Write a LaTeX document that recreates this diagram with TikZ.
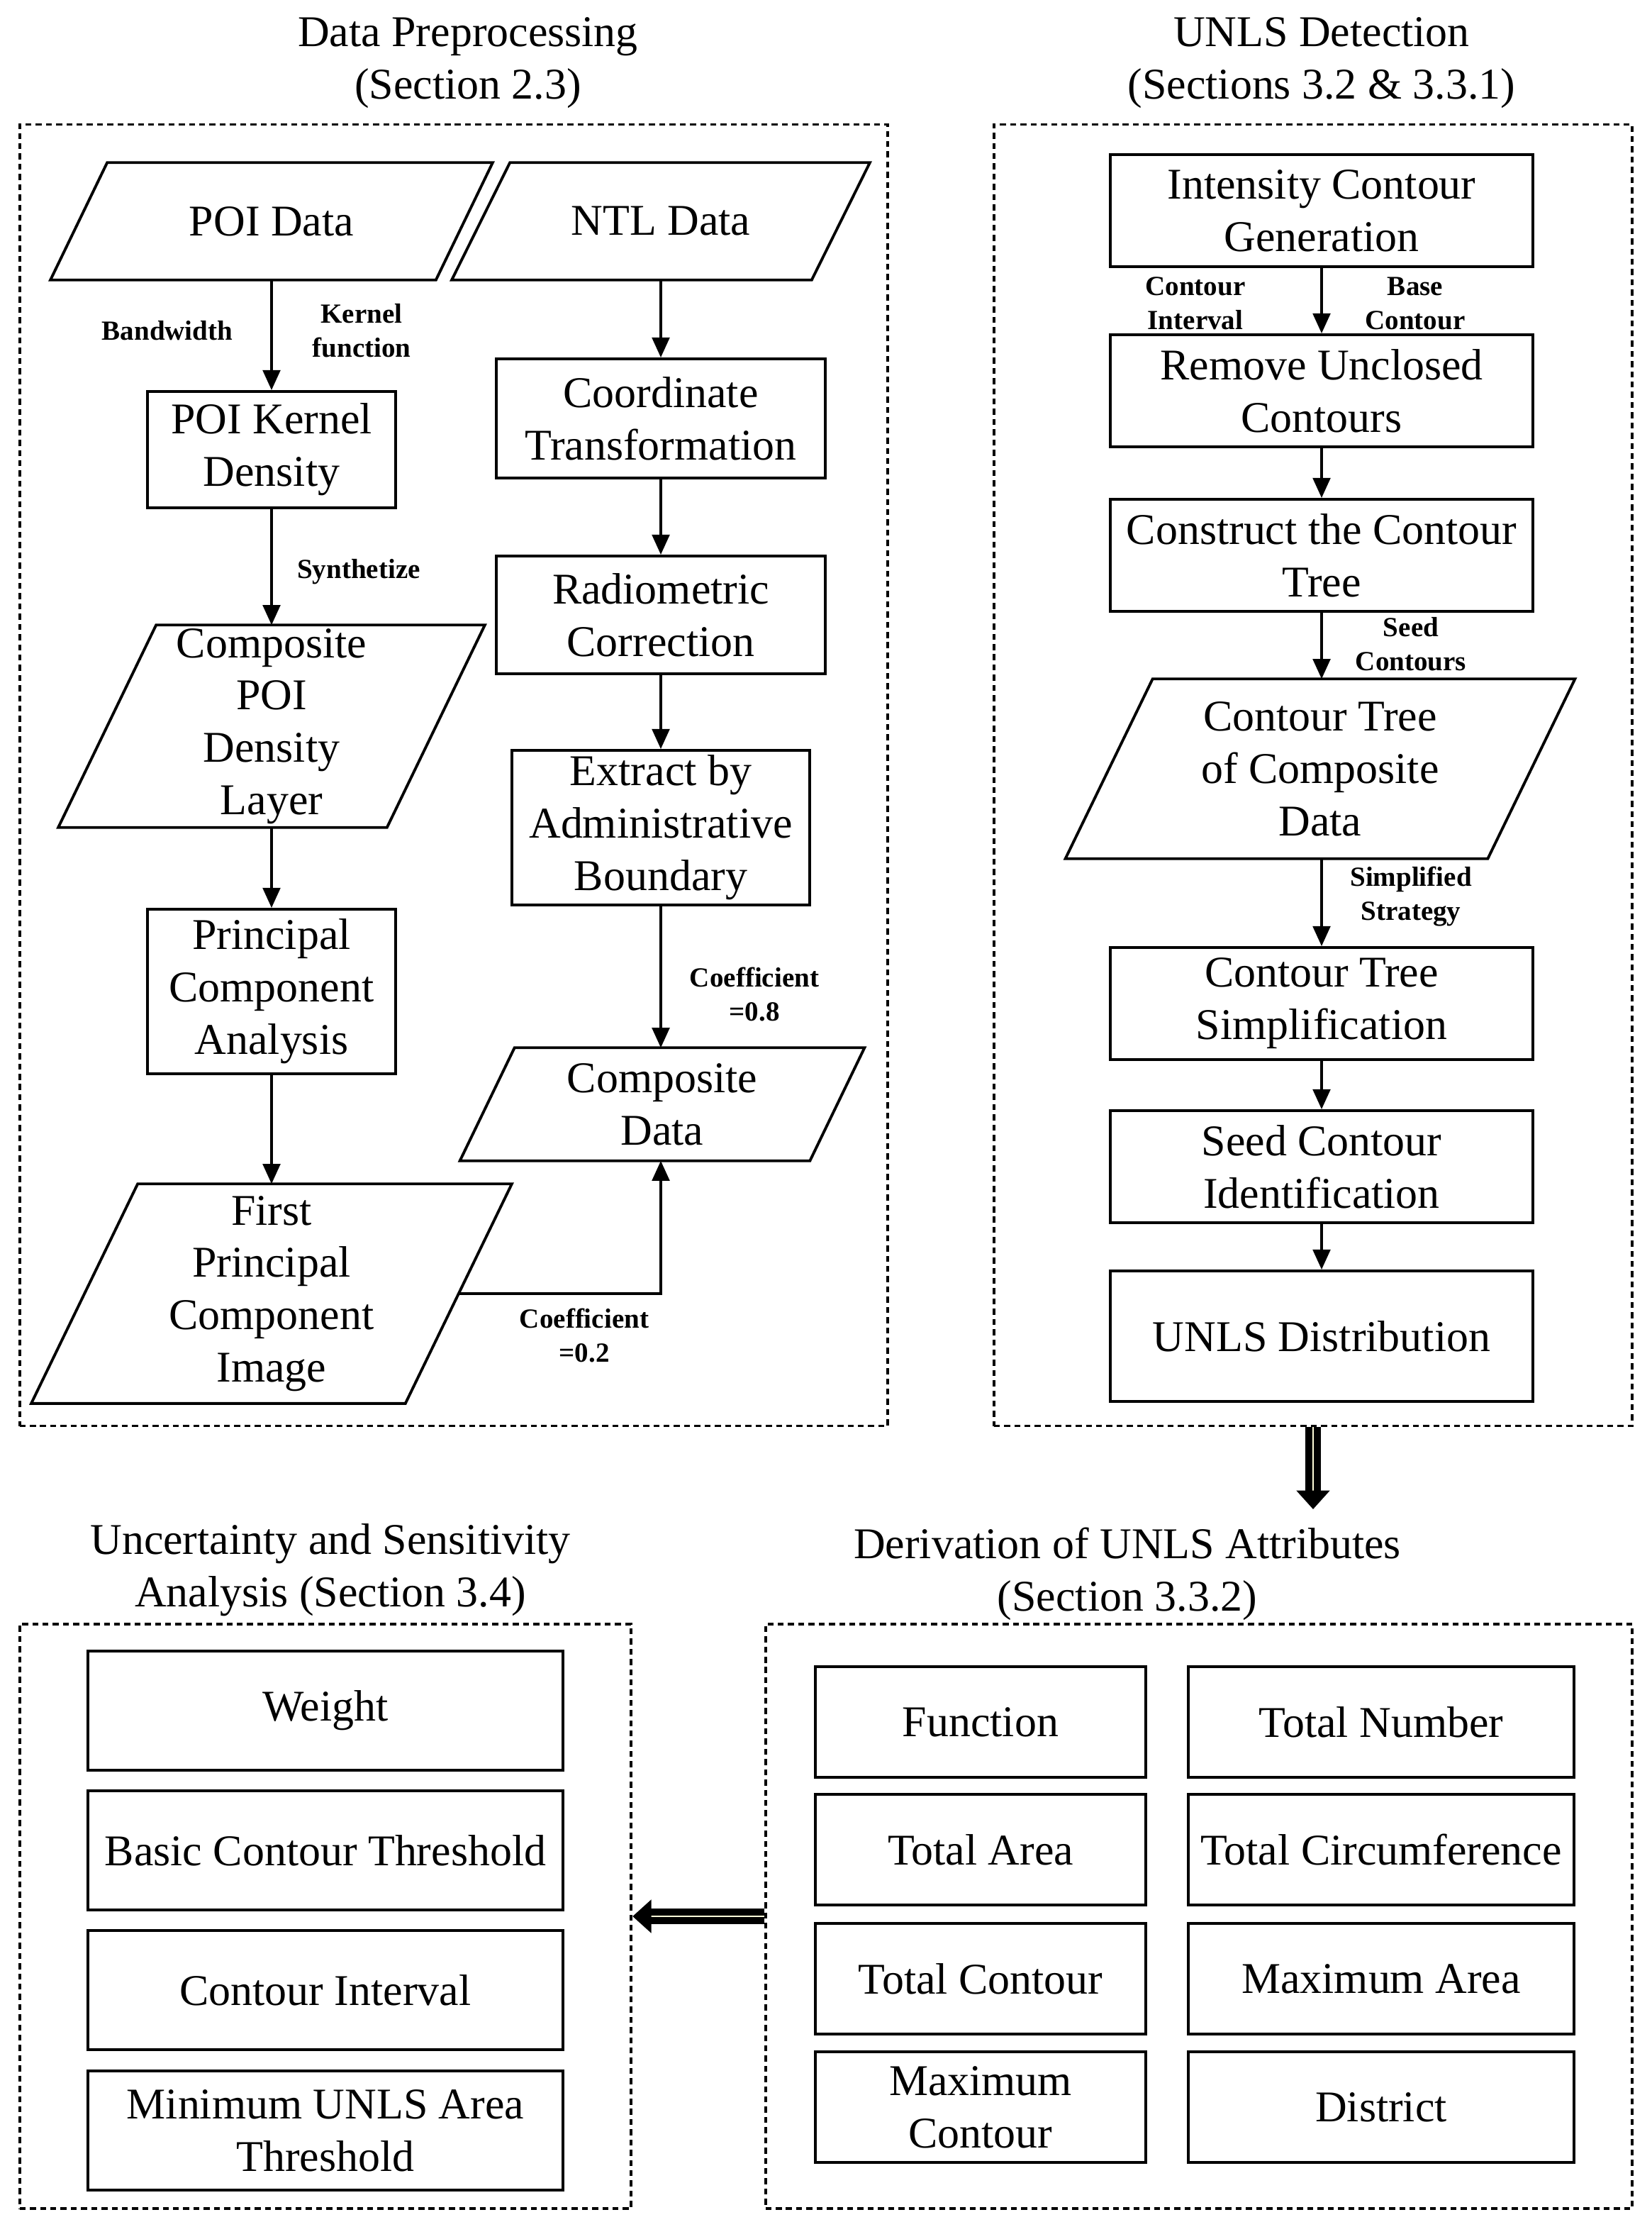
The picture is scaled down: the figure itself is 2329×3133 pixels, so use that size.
\documentclass[tikz,border=0pt]{standalone}
\usepackage{fontspec}
\setmainfont{Liberation Serif}
\usetikzlibrary{arrows.meta, positioning}
\newcommand{\mainfs}{\fontsize{17.6pt}{21pt}\selectfont}
\newcommand{\labfs}{\fontsize{11.1pt}{13.7pt}\selectfont\bfseries}
% slanted outline round a data node: #1 node, #2 half of the slant
\newcommand{\ioframe}[2]{\draw[line width=1.1pt] ([xshift=#2]#1.north west) -- ([xshift=#2]#1.north east) -- ([xshift=-#2]#1.south east) -- ([xshift=-#2]#1.south west) -- cycle;}

\begin{document}
\begin{tikzpicture}[x=0.01cm, y=-0.01cm,
  pbox/.style={draw, line width=1.1pt, align=center, inner sep=2pt, font=\mainfs},
  iobox/.style={align=center, inner sep=1pt, font=\mainfs},
  ttl/.style={align=center, font=\mainfs},
  lbl/.style={align=center, font=\labfs, inner sep=0pt},
  frame/.style={draw, line width=1.1pt, dash pattern=on 2.4pt off 1.7pt, inner sep=0pt},
  arr/.style={line width=1pt, -{Triangle[length=8pt, width=7pt]}},
  fat/.style={line width=2.6pt, double=white!85!yellow, double distance=0.8pt, -{Triangle[length=7.5pt, width=13pt]}}
]
  \useasboundingbox (0,0) rectangle (2329,3133);

  % titles and dashed frames
  \node[ttl] (prepTitle) at (660,89) {Data Preprocessing\\(Section 2.3)};
  \node[ttl] (detTitle) at (1864,89) {UNLS Detection\\(Sections 3.2 \& 3.3.1)};
  \node[ttl] (uncTitle) at (466,2214) {Uncertainty and Sensitivity\\Analysis (Section 3.4)};
  \node[ttl] (attrTitle) at (1590,2219) {Derivation of UNLS Attributes\\(Section 3.3.2)};

  \node[frame, minimum width=12.24cm, minimum height=18.34cm] (prepFrame) at (640,1093) {};
  \node[frame, minimum width=9cm, minimum height=18.34cm] (detFrame) at (1852,1093) {};
  \node[frame, minimum width=8.62cm, minimum height=8.24cm] (uncFrame) at (459,2702) {};
  \node[frame, minimum width=12.22cm, minimum height=8.24cm] (attrFrame) at (1691,2702) {};

  % data preprocessing: POI branch
  \node[iobox, minimum width=5.42cm, minimum height=1.64cm] (poi) at (383,312) {POI Data};
  \node[pbox, minimum width=3.5cm, minimum height=1.64cm] (kde) at (383,634) {POI Kernel\\Density};
  \node[iobox, minimum width=4.62cm, minimum height=2.84cm] (cpoi) at (383,1024) {Composite\\POI\\Density\\Layer};
  \node[pbox, minimum width=3.5cm, minimum height=2.32cm] (pca) at (383,1398) {Principal\\Component\\Analysis};
  \node[iobox, minimum width=5.26cm, minimum height=3.08cm] (fpci) at (383,1824) {First\\Principal\\Component\\Image};
  \ioframe{poi}{0.4cm}
  \ioframe{cpoi}{0.69cm}
  \ioframe{fpci}{0.75cm}

  % data preprocessing: NTL branch
  \node[iobox, minimum width=5.06cm, minimum height=1.64cm] (ntl) at (932,312) {NTL Data};
  \node[pbox, minimum width=4.64cm, minimum height=1.68cm] (ctr) at (932,590) {Coordinate\\Transformation};
  \node[pbox, minimum width=4.64cm, minimum height=1.66cm] (rad) at (932,867) {Radiometric\\Correction};
  \node[pbox, minimum width=4.2cm, minimum height=2.14cm] (ext) at (932,1167) {Extract by\\Administrative\\Boundary};
  \node[iobox, minimum width=4.92cm, minimum height=1.58cm] (cd) at (934,1557) {Composite\\Data};
  \ioframe{ntl}{0.41cm}
  \ioframe{cd}{0.385cm}

  \draw[arr] (poi.south) -- (kde.north);
  \draw[arr] (kde.south) -- (cpoi.north);
  \draw[arr] (cpoi.south) -- (pca.north);
  \draw[arr] (pca.south) -- (fpci.north);
  \draw[arr] (ntl.south) -- (ctr.north);
  \draw[arr] (ctr.south) -- (rad.north);
  \draw[arr] (rad.south) -- (ext.north);
  \draw[arr] (ext.south) -- (ext.south |- cd.north);
  \draw[arr] (fpci.east) -| (ext.south |- cd.south);

  \node[lbl] (bwLbl) at (236,466) {Bandwidth};
  \node[lbl] (kfLbl) at (510,466) {Kernel\\function};
  \node[lbl] (synLbl) at (506,806) {Synthetize};
  \node[lbl] (coefA) at (1064,1402) {Coefficient\\=0.8};
  \node[lbl] (coefB) at (824,1883) {Coefficient\\=0.2};

  % UNLS detection
  \node[pbox, minimum width=5.96cm, minimum height=1.58cm] (icg) at (1864,297) {Intensity Contour\\Generation};
  \node[pbox, minimum width=5.96cm, minimum height=1.58cm] (ruc) at (1864,551) {Remove Unclosed\\Contours};
  \node[pbox, minimum width=5.96cm, minimum height=1.58cm] (cct) at (1864,783) {Construct the Contour\\Tree};
  \node[iobox, minimum width=5.94cm, minimum height=2.52cm] (ctcd) at (1862,1084) {Contour Tree\\of Composite\\Data};
  \node[pbox, minimum width=5.96cm, minimum height=1.58cm] (cts) at (1864,1415) {Contour Tree\\Simplification};
  \node[pbox, minimum width=5.96cm, minimum height=1.58cm] (sci) at (1864,1645) {Seed Contour\\Identification};
  \node[pbox, minimum width=5.96cm, minimum height=1.84cm] (ud) at (1864,1884) {UNLS Distribution};
  \ioframe{ctcd}{0.615cm}

  \draw[arr] (icg.south) -- (ruc.north);
  \draw[arr] (ruc.south) -- (cct.north);
  \draw[arr] (cct.south) -- (cct.south |- ctcd.north);
  \draw[arr] (cct.south |- ctcd.south) -- (cts.north);
  \draw[arr] (cts.south) -- (sci.north);
  \draw[arr] (sci.south) -- (ud.north);

  \node[lbl] (ciLbl) at (1686,428) {Contour\\Interval};
  \node[lbl] (bcLbl) at (1996,428) {Base\\Contour};
  \node[lbl] (scLbl) at (1990,908) {Seed\\Contours};
  \node[lbl] (ssLbl) at (1990,1264) {Simplified\\Strategy};

  % UNLS attributes
  \node[pbox, minimum width=4.66cm, minimum height=1.56cm] (fun) at (1383,2428) {Function};
  \node[pbox, minimum width=4.66cm, minimum height=1.56cm] (tarea) at (1383,2608) {Total Area};
  \node[pbox, minimum width=4.66cm, minimum height=1.56cm] (tcon) at (1383,2790) {Total Contour};
  \node[pbox, minimum width=4.66cm, minimum height=1.56cm] (mcon) at (1383,2971) {Maximum\\Contour};
  \node[pbox, minimum width=5.44cm, minimum height=1.56cm] (tnum) at (1948,2428) {Total Number};
  \node[pbox, minimum width=5.44cm, minimum height=1.56cm] (tcirc) at (1948,2608) {Total Circumference};
  \node[pbox, minimum width=5.44cm, minimum height=1.56cm] (marea) at (1948,2790) {Maximum Area};
  \node[pbox, minimum width=5.44cm, minimum height=1.56cm] (dist) at (1948,2971) {District};

  % uncertainty and sensitivity
  \node[pbox, minimum width=6.7cm, minimum height=1.68cm] (wgt) at (459,2412) {Weight};
  \node[pbox, minimum width=6.7cm, minimum height=1.68cm] (bct) at (459,2609) {Basic Contour Threshold};
  \node[pbox, minimum width=6.7cm, minimum height=1.68cm] (cint) at (459,2806) {Contour Interval};
  \node[pbox, minimum width=6.7cm, minimum height=1.68cm] (mat) at (459,3004) {Minimum UNLS Area\\Threshold};

  % links between panels
  \coordinate (attrIn) at (1852,2128);
  \draw[fat] (detFrame.south) -- (attrIn);
  \draw[fat] (attrFrame.west) -- (uncFrame.east);
\end{tikzpicture}
\end{document}
